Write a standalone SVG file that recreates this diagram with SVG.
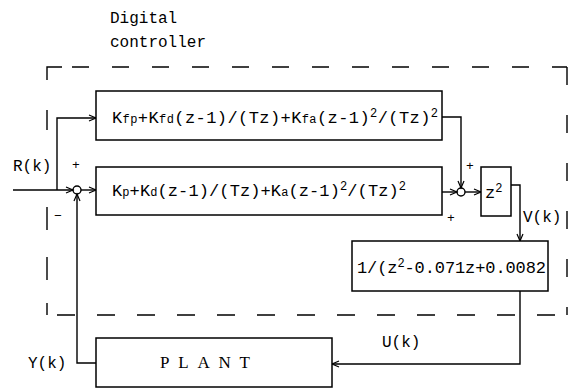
<svg xmlns="http://www.w3.org/2000/svg" width="569" height="389" viewBox="0 0 569 389">
<defs>
<marker id="arr" markerWidth="10" markerHeight="10" refX="8" refY="4" orient="auto" markerUnits="userSpaceOnUse">
<path d="M1,1 L8,4 L1,7" fill="none" stroke="#000" stroke-width="1.2"/>
</marker>
<style>
.blk{fill:#fff;stroke:#000;stroke-width:1.5}
.ln{fill:none;stroke:#000;stroke-width:1.4}
.dash{fill:none;stroke:#000;stroke-width:1.4}
.t{font-family:"Liberation Mono",monospace;font-size:16px;fill:#000}
.f{font-family:"Liberation Mono",monospace;font-size:17px;fill:#000}
.s{font-size:12px}
.p{font-family:"Liberation Serif",serif;font-size:17px;fill:#000}
</style>
</defs>
<rect width="569" height="389" fill="#fff"/>
<g id="controller-boundary">
<text class="t" x="110" y="23">Digital</text>
<text class="t" x="110" y="47">controller</text>
<path class="dash" d="M47,80 V67 H62" />
<line class="dash" x1="72" y1="67" x2="567" y2="67" stroke-dasharray="17 23"/>
<line class="dash" x1="567" y1="67" x2="567" y2="315" stroke-dasharray="18 30"/>
<line class="dash" x1="47" y1="315" x2="567" y2="315" stroke-dasharray="18 22" stroke-dashoffset="-10"/>
<path class="dash" d="M47,110 V130 M47,207 V230 M47,257 V280 M47,303 V315"/>
</g>
<g id="connectors">
<line class="ln" x1="13" y1="190" x2="73" y2="190" marker-end="url(#arr)"/>
<path class="ln" d="M57,190 V118 H96" marker-end="url(#arr)"/>
<path class="ln" d="M96,363 H77 V194" marker-end="url(#arr)"/>
<line class="ln" x1="81" y1="190" x2="96" y2="190" marker-end="url(#arr)"/>
<path class="ln" d="M442,117 H461 V188" marker-end="url(#arr)"/>
<line class="ln" x1="442" y1="192" x2="457" y2="192" marker-end="url(#arr)"/>
<line class="ln" x1="465" y1="192" x2="481" y2="192" marker-end="url(#arr)"/>
<path class="ln" d="M510,185 H520 V241" marker-end="url(#arr)"/>
<path class="ln" d="M520,291 V364 H332" marker-end="url(#arr)"/>
</g>
<g id="sum1">
<circle cx="77" cy="190" r="4" class="ln"/>
<text class="t" x="72" y="169" style="font-size:13px">+</text>
<text class="t" x="54" y="220" style="font-size:13px">−</text>
</g>
<g id="sum2">
<circle cx="461" cy="192" r="4" class="ln"/>
<text class="t" x="466" y="170" style="font-size:13px">+</text>
<text class="t" x="447" y="222" style="font-size:13px">+</text>
</g>
<g id="feedforward">
<rect class="blk" x="96" y="91" width="346" height="49"/>
<text class="f" x="112" y="123" textLength="326" lengthAdjust="spacing">K<tspan class="s">fp</tspan>+K<tspan class="s">fd</tspan>(z-1)/(Tz)+K<tspan class="s">fa</tspan>(z-1)<tspan class="s" dy="-6">2</tspan><tspan dy="6">/(Tz)</tspan><tspan class="s" dy="-6">2</tspan></text>
</g>
<g id="pid">
<rect class="blk" x="96" y="167" width="346" height="48"/>
<text class="f" x="112" y="196" textLength="294" lengthAdjust="spacing">K<tspan class="s">p</tspan>+K<tspan class="s">d</tspan>(z-1)/(Tz)+K<tspan class="s">a</tspan>(z-1)<tspan class="s" dy="-6">2</tspan><tspan dy="6">/(Tz)</tspan><tspan class="s" dy="-6">2</tspan></text>
</g>
<g id="z2">
<rect class="blk" x="481" y="167" width="30" height="49"/>
<text class="f" x="485" y="198">z<tspan class="s" dy="-6">2</tspan></text>
</g>
<g id="filter">
<rect class="blk" x="352" y="241" width="196" height="50"/>
<text class="f" x="357" y="273" textLength="189" lengthAdjust="spacing">1/(z<tspan class="s" dy="-6">2</tspan><tspan dy="6">-0.071z+0.0082</tspan></text>
</g>
<g id="plant">
<rect class="blk" x="96" y="338" width="236" height="49"/>
<text class="p" x="160" y="368" textLength="90" lengthAdjust="spacing">PLANT</text>
</g>
<g id="labels">
<text class="t" x="13" y="171">R(k)</text>
<text class="t" x="523" y="222">V(k)</text>
<text class="t" x="382" y="347">U(k)</text>
<text class="t" x="28" y="368">Y(k)</text>
</g>
</svg>
